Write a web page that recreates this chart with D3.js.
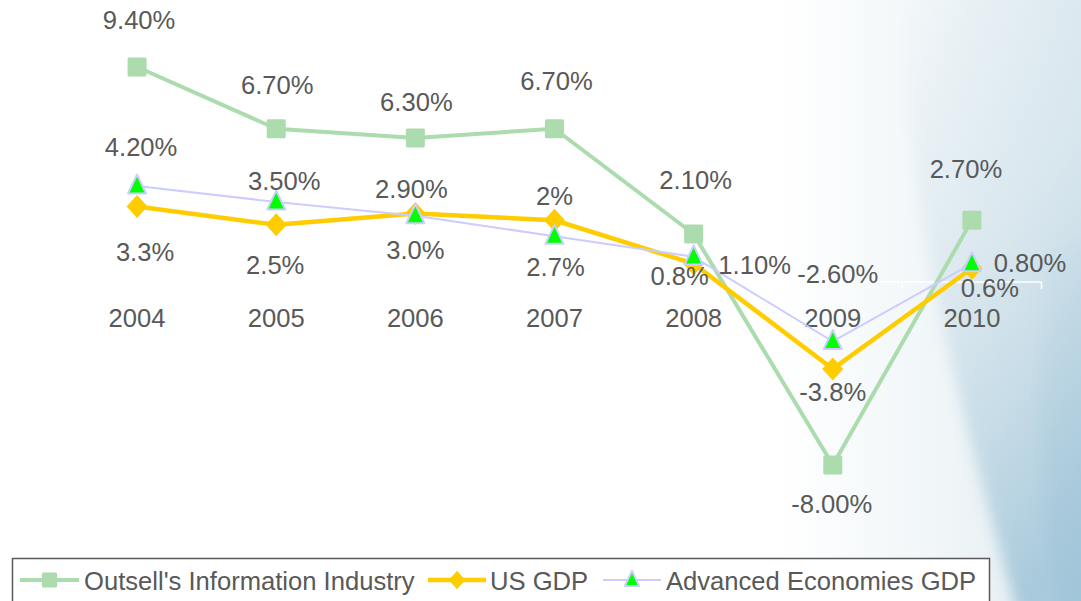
<!DOCTYPE html>
<html><head><meta charset="utf-8">
<script src="https://cdn.jsdelivr.net/npm/d3@7"></script>
<style>html,body{margin:0;padding:0;background:#fff;overflow:hidden}svg{display:block}</style>
</head><body><svg id="c" width="1081" height="601"></svg>
<script>
// ---- data ----
const years = ["2004","2005","2006","2007","2008","2009","2010"];
const outsell = [9.4, 6.7, 6.3, 6.7, 2.1, -8.0, 2.7];
const usGdp = [3.3, 2.5, 3.0, 2.7, 0.8, -3.8, 0.6];
const advGdp = [4.2, 3.5, 2.9, 2.0, 1.1, -2.6, 0.8];
const outsellLabels = ["9.40%","6.70%","6.30%","6.70%","2.10%","-8.00%","2.70%"];
const usLabels = ["3.3%","2.5%","3.0%","2.7%","0.8%","-3.8%","0.6%"];
const advLabels = ["4.20%","3.50%","2.90%","2%","1.10%","-2.60%","0.80%"];
const seriesNames = ["Outsell's Information Industry","US GDP","Advanced Economies GDP"];

// ---- layout (label offsets relative to the point) ----
const outsellOff = [[2,-38],[1,-35],[1,-27],[2,-39],[2,-45],[-1,48],[-6,-42]];
const usOff = [[8,54],[-1,49],[0,46],[1,56],[-14,21],[0,32],[18,29]];
const advOff = [[4,-30],[8,-12],[-4,-18],[0,-31],[61,17],[5,-58],[58,8]];

const svg = d3.select("#c");
const W = 1081, H = 601;
const FONT = "'Liberation Sans', Arial, sans-serif";
const FS = 25.6;
const TXT = "#595959";

// background
const defs = svg.append("defs");
const g1 = defs.append("linearGradient").attr("id","bg1").attr("x1","0").attr("x2","1").attr("y1","0").attr("y2","0");
g1.append("stop").attr("offset","0.72").attr("stop-color","#ffffff");
g1.append("stop").attr("offset","0.85").attr("stop-color","#f2f7f9");
g1.append("stop").attr("offset","1").attr("stop-color","#e0ebf1");
const g2 = defs.append("linearGradient").attr("id","bg2").attr("x1","0").attr("x2","0.35").attr("y1","0").attr("y2","1");
g2.append("stop").attr("offset","0").attr("stop-color","#dae7ee").attr("stop-opacity",0.0);
g2.append("stop").attr("offset","0.45").attr("stop-color","#d3e3eb").attr("stop-opacity",0.6);
g2.append("stop").attr("offset","1").attr("stop-color","#a9cadc").attr("stop-opacity",1);
const g3 = defs.append("linearGradient").attr("id","bg3").attr("x1","0").attr("x2","0.3").attr("y1","0").attr("y2","1");
g3.append("stop").attr("offset","0").attr("stop-color","#b3d0df").attr("stop-opacity",0);
g3.append("stop").attr("offset","1").attr("stop-color","#9ec3d7").attr("stop-opacity",0.8);
defs.append("filter").attr("id","soft").attr("x","-0.2").attr("y","-0.2").attr("width","1.4").attr("height","1.4")
  .append("feGaussianBlur").attr("stdDeviation",7);

svg.append("rect").attr("width",W).attr("height",H).attr("fill","url(#bg1)");
svg.append("path").attr("d","M905,-20 C900,170 940,340 1025,640 L1120,640 L1120,-20 Z").attr("fill","url(#bg2)").attr("filter","url(#soft)");
svg.append("path").attr("d","M1050,250 C1030,380 1040,480 1060,640 L1120,640 L1120,230 Z").attr("fill","url(#bg3)").attr("filter","url(#soft)");

// scales
const x = d3.scaleBand().domain(years).range([67.5, 1041.5]).padding(0);
const xc = d => x(d) + x.bandwidth()/2;
const y = d3.scaleLinear().domain([-8, 9.4]).range([465, 67]);

// axis (white)
const ax = svg.append("g").attr("transform", `translate(0,${y(0)})`);
ax.append("line").attr("x1",x.range()[0]).attr("x2",x.range()[1]).attr("stroke","#fff").attr("stroke-width",1.5);
const bounds = years.map(d => x(d)).concat([x.range()[1]]);
ax.selectAll("line.t").data(bounds).enter().append("line").attr("class","t")
  .attr("x1",d=>d).attr("x2",d=>d).attr("y1",0).attr("y2",7).attr("stroke","#fff").attr("stroke-width",1.5);
ax.selectAll("text").data(years).enter().append("text")
  .attr("x", d => xc(d)).attr("y", 45).attr("text-anchor","middle")
  .attr("font-family",FONT).attr("font-size",FS).attr("fill",TXT).text(d=>d);

const series = [
  {vals: outsell, labels: outsellLabels, off: outsellOff, color:"#acdcae", width:4, marker:"square"},
  {vals: usGdp, labels: usLabels, off: usOff, color:"#ffcc00", width:4.5, marker:"diamond"},
  {vals: advGdp, labels: advLabels, off: advOff, color:"#ccccff", width:2, marker:"triangle"}
];

function drawMarker(g, type, cx, cy, k) {
  if (type === "square") {
    const s = 19*k;
    g.append("rect").attr("x",cx-s/2).attr("y",cy-s/2).attr("width",s).attr("height",s).attr("rx",1.5)
      .attr("fill","#acdcae");
  } else if (type === "diamond") {
    const r = 11.5*k;
    g.append("path").attr("d",`M${cx},${cy-r} L${cx+r-1},${cy} L${cx},${cy+r} L${cx-r+1},${cy} Z`).attr("fill","#ffcc00");
  } else {
    const h = 19*k, w = 18*k;
    g.append("path").attr("d",`M${cx},${cy-h*0.6} L${cx+w/2},${cy+h*0.4} L${cx-w/2},${cy+h*0.4} Z`)
      .attr("fill","#00ff00").attr("stroke","#ccccff").attr("stroke-width",2).attr("stroke-linejoin","round");
  }
}

const line = d3.line().x((d,i)=>xc(years[i])).y(d=>y(d));
series.forEach(s => {
  svg.append("path").attr("d", line(s.vals)).attr("fill","none").attr("stroke",s.color)
    .attr("stroke-width",s.width).attr("stroke-linejoin","round");
  const mg = svg.append("g");
  s.vals.forEach((v,i)=> drawMarker(mg, s.marker, xc(years[i]), y(v), 1));
});
series.forEach(s => {
  svg.append("g").selectAll("text").data(s.vals).enter().append("text")
    .attr("x",(d,i)=>xc(years[i]) + s.off[i][0]).attr("y",(d,i)=>y(d) + s.off[i][1])
    .attr("text-anchor","middle").attr("font-family",FONT).attr("font-size",FS).attr("fill",TXT)
    .text((d,i)=>s.labels[i]);
});

// legend
const lg = svg.append("g");
lg.append("rect").attr("x",12.5).attr("y",558.5).attr("width",977).attr("height",60)
  .attr("fill","#fff").attr("stroke","#5a5a5a").attr("stroke-width",1.5);
const legItems = [
  {x0:20, x1:79, tx:84, s:series[0]},
  {x0:428, x1:486, tx:490, s:series[1]},
  {x0:603, x1:661, tx:666, s:series[2]}
];
legItems.forEach((it,i)=>{
  const cy = 580;
  lg.append("line").attr("x1",it.x0).attr("x2",it.x1).attr("y1",cy).attr("y2",cy)
    .attr("stroke",it.s.color).attr("stroke-width",it.s.width);
  drawMarker(lg, it.s.marker, (it.x0+it.x1)/2, cy, 0.8);
  lg.append("text").attr("x",it.tx).attr("y",590).attr("font-family",FONT).attr("font-size",FS)
    .attr("fill",TXT).text(seriesNames[i]);
});
</script></body></html>
